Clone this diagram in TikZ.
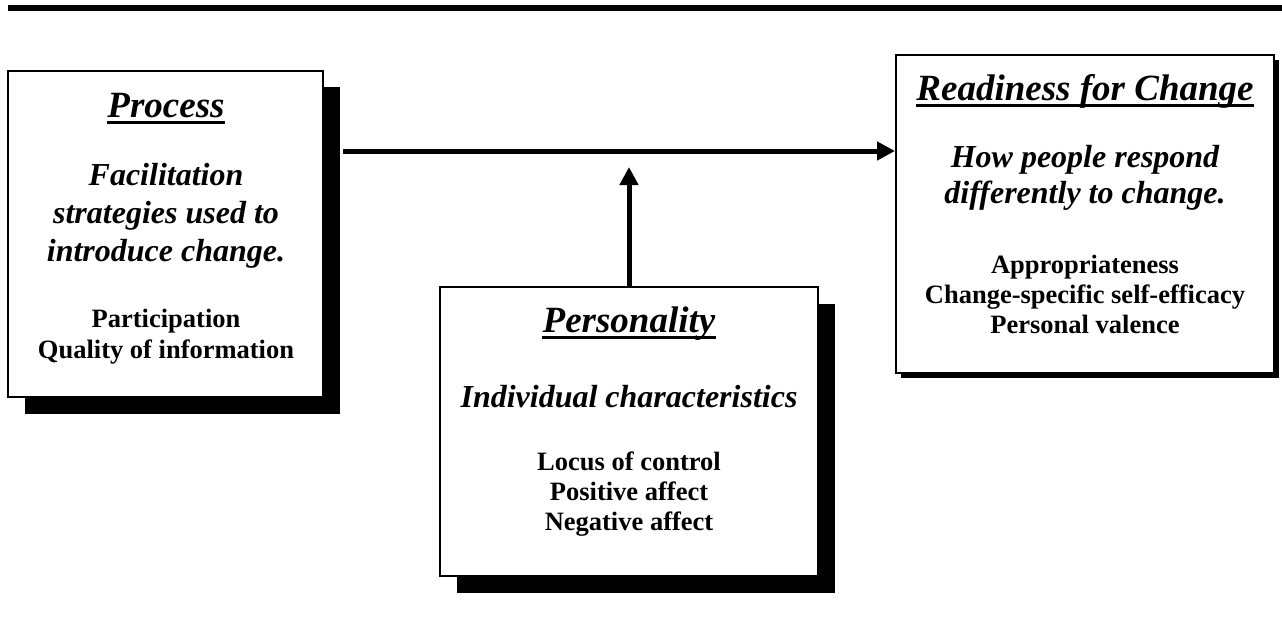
\documentclass[tikz,border=0pt]{standalone}
\usepackage{fontspec}
\setmainfont{Liberation Serif}
\usetikzlibrary{arrows.meta}
\begin{document}
\begin{tikzpicture}[x=1pt,y=-1pt,
  box/.style={draw=black, line width=2pt, fill=white, inner sep=0pt},
  shd/.style={fill=black},
  hd/.style={font=\fontsize{37}{42}\selectfont\bfseries\itshape, anchor=base, inner sep=0pt},
  subt/.style={font=\fontsize{32}{37}\selectfont\bfseries\itshape, anchor=base, inner sep=0pt},
  lst/.style={font=\fontsize{26.5}{30}\selectfont\bfseries, anchor=base, inner sep=0pt},
  uline/.style={line width=3pt},
  arr/.style={line width=5pt, -{Triangle[length=18pt,width=18pt]}}]
\useasboundingbox (0,0) rectangle (1282,630);
% top rule
\fill (8,5) rectangle (1282,11);
% shadows
\fill[shd] (25,87) rectangle (340,414);
\fill[shd] (901,60) rectangle (1279,378);
\fill[shd] (457,304) rectangle (835,593);
% boxes
\node[box, minimum width=315pt, minimum height=326pt] (proc) at (165.5,234) {};
\node[box, minimum width=378pt, minimum height=318pt] (ready) at (1085,214) {};
\node[box, minimum width=378pt, minimum height=289pt] (pers) at (629,431.5) {};
% Process text
\node[hd] (ph) at (166,117) {Process};
\draw[uline] ([yshift=-5pt]ph.base west) -- ([yshift=-5pt]ph.base east);
\node[subt] (ps1) at (166,185) {Facilitation};
\node[subt] (ps2) at (166,223) {strategies used to};
\node[subt] (ps3) at (166,261) {introduce change.};
\node[lst] (pl1) at (166,327) {Participation};
\node[lst] (pl2) at (166,358) {Quality of information};
% Readiness text
\node[hd] (rh) at (1085,100) {Readiness for Change};
\draw[uline] ([yshift=-5pt]rh.base west) -- ([yshift=-5pt]rh.base east);
\node[subt] (rs1) at (1085,167) {How people respond};
\node[subt] (rs2) at (1085,203) {differently to change.};
\node[lst] (rl1) at (1085,273) {Appropriateness};
\node[lst] (rl2) at (1085,303) {Change-specific self-efficacy};
\node[lst] (rl3) at (1085,333) {Personal valence};
% Personality text
\node[hd] (eh) at (629,332) {Personality};
\draw[uline] ([yshift=-5pt]eh.base west) -- ([yshift=-5pt]eh.base east);
\node[subt] (es1) at (629,407) {Individual characteristics};
\node[lst] (el1) at (629,470) {Locus of control};
\node[lst] (el2) at (629,500) {Positive affect};
\node[lst] (el3) at (629,530) {Negative affect};
% arrows
\coordinate (hstart) at (343,151);
\coordinate (vtip) at (629,167);
\draw[arr] (hstart) -- (ready.west |- hstart);
\draw[arr] (pers.north) -- (vtip);
\end{tikzpicture}
\end{document}
